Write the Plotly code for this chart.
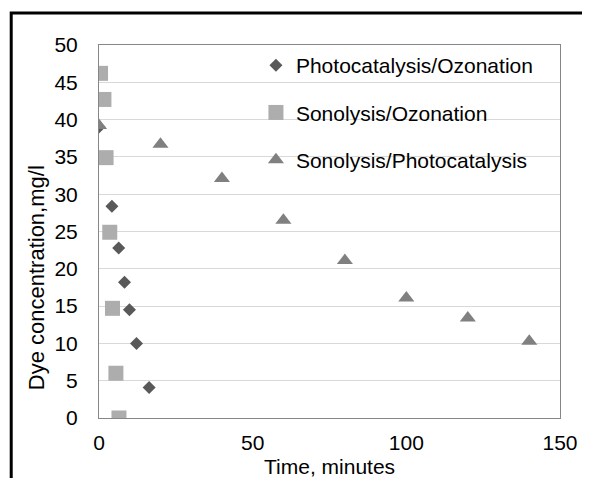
import plotly.graph_objects as go

# Data
po_time = [0, 4.2, 6.4, 8.3, 9.9, 12.2, 16.3]
po_conc = [39.0, 28.4, 22.8, 18.2, 14.5, 10.0, 4.1]

so_time = [0.5, 1.6, 2.3, 3.5, 4.4, 5.5, 6.5]
so_conc = [46.2, 42.7, 34.9, 24.9, 14.7, 6.0, 0.0]

sp_time = [0, 20, 40, 60, 80, 100, 120, 140]
sp_conc = [39.2, 36.7, 32.1, 26.5, 21.1, 16.1, 13.4, 10.3]

names = ["Photocatalysis/Ozonation", "Sonolysis/Ozonation", "Sonolysis/Photocatalysis"]
x_title = "Time, minutes"
y_title = "Dye concentration,mg/l"

FONT = "Liberation Sans, Arial, sans-serif"
FS = 21

# page has an 8px body margin, so figure is 8px smaller than the window
W, H = 582, 470
L, R, T, B = 91, 21, 37, 60
PW, PH = W - L - R, H - T - B

fig = go.Figure()
fig.add_trace(go.Scatter(x=po_time, y=po_conc, mode="markers", name=names[0],
                         legendgroup="a",
                         marker=dict(symbol="diamond", size=10, color="#595959")))
fig.add_trace(go.Scatter(x=so_time, y=so_conc, mode="markers", name=names[1],
                         legendgroup="b",
                         marker=dict(symbol="square", size=15, color="#adadad")))
fig.add_trace(go.Scatter(x=sp_time, y=sp_conc, mode="markers", name=names[2],
                         legendgroup="c",
                         marker=dict(symbol="triangle-up", size=14, color="#808080")))

fig.update_layout(
    width=W, height=H,
    margin=dict(l=L, r=R, t=T, b=B),
    paper_bgcolor="white", plot_bgcolor="white",
    font=dict(family=FONT, size=FS, color="black"),
    showlegend=True,
    legend=dict(x=(251 - L) / PW, y=1.0, xanchor="left", yanchor="top",
                bgcolor="rgba(0,0,0,0)", font=dict(size=FS, family=FONT),
                tracegroupgap=17, itemwidth=30),
    xaxis=dict(range=[0, 150], dtick=50, showgrid=False, zeroline=False,
               showline=True, linecolor="#868686", linewidth=1, mirror=True,
               ticks="", tickfont=dict(size=FS), ticklabelstandoff=6),
    yaxis=dict(range=[0, 50], dtick=5, showgrid=True, gridcolor="#d9d9d9",
               zeroline=False, showline=True, linecolor="#868686", linewidth=1,
               mirror=True, ticks="", tickfont=dict(size=FS), ticklabelstandoff=16),
    annotations=[
        dict(text=x_title, xref="paper", yref="paper", x=0.5, y=(410 - 458) / PH,
             xanchor="center", yanchor="middle", showarrow=False,
             font=dict(size=FS, family=FONT)),
        dict(text=y_title, xref="paper", yref="paper", x=(27 - L) / PW,
             y=(410 - 270) / PH, xanchor="center", yanchor="middle",
             textangle=-90, showarrow=False, font=dict(size=22, family=FONT)),
    ],
    shapes=[dict(type="rect", xref="paper", yref="paper",
                 x0=(1.5 - L) / PW, x1=1.3, y0=-0.5, y1=(410 - 5) / PH,
                 line=dict(color="black", width=3))],
)

fig.write_html("out.html")
